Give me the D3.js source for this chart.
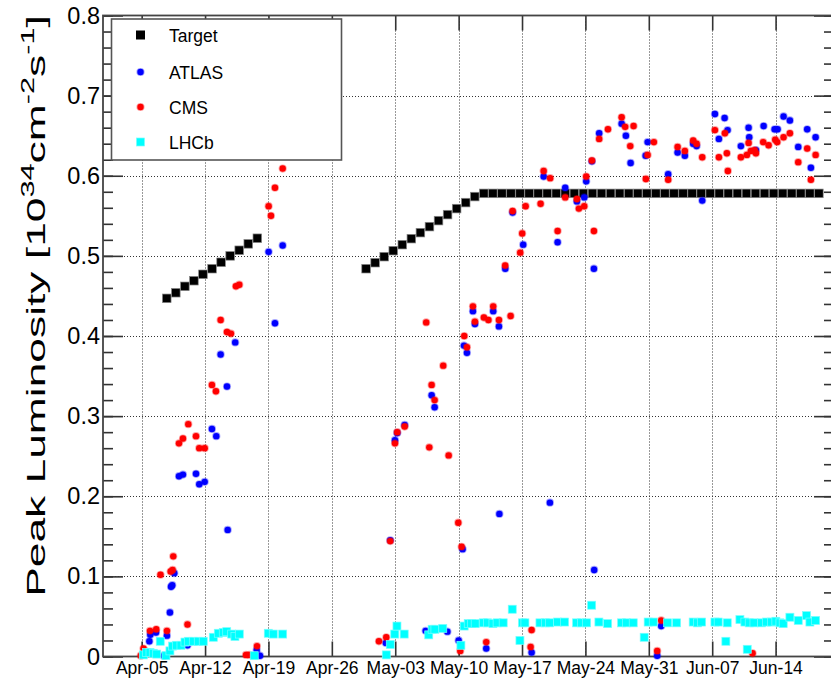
<!DOCTYPE html>
<html>
<head>
<meta charset="utf-8">
<script src="https://cdn.jsdelivr.net/npm/d3@7"></script>
<style>
  body { margin: 0; background: #fff; }
  text { font-family: "Liberation Sans", Arial, Helvetica, sans-serif; }
</style>
</head>
<body>
<div id="chart"></div>
<script>
var width = 831, height = 680;

// x values are days after Apr-05 (00:00)
var tickDays = [0, 7, 14, 21, 28, 35, 42, 49, 56, 63, 70];
var tickLabels = ["Apr-05", "Apr-12", "Apr-19", "Apr-26", "May-03", "May-10",
                  "May-17", "May-24", "May-31", "Jun-07", "Jun-14"];

// target: daily points, first day of each run + values
var targetStart = [2.77, 24.78];
var targetLumi = [
  [0.447, 0.454, 0.462, 0.469, 0.477, 0.484, 0.492, 0.500, 0.507, 0.515, 0.522],
  [0.484, 0.4915, 0.499, 0.5065, 0.514, 0.5215, 0.529, 0.5365, 0.544, 0.5515, 0.559, 0.5665, 0.574,
   0.578, 0.578, 0.578, 0.578, 0.578, 0.578, 0.578, 0.578, 0.578, 0.578,
   0.578, 0.578, 0.578, 0.578, 0.578, 0.578, 0.578, 0.578, 0.578, 0.578,
   0.578, 0.578, 0.578, 0.578, 0.578, 0.578, 0.578, 0.578, 0.578, 0.578,
   0.578, 0.578, 0.578, 0.578, 0.578, 0.578, 0.578, 0.578]
];

var atlas = [[0.85,0.019],[0.95,0.027],[1.58,0.03],[2.46,0.001],[2.79,0.026],[3.12,0.055],[3.24,0.087],
  [3.38,0.089],[3.6,0.104],[4.12,0.225],[4.56,0.227],[5.06,0.014],[6.0,0.228],[6.36,0.215],[6.96,0.218],
  [7.76,0.284],[8.24,0.275],[8.72,0.377],[9.42,0.337],[9.5,0.158],[10.33,0.392],[12.7,0.008],[13.06,0.001],
  [14.02,0.505],[14.72,0.416],[15.57,0.513],
  [26.97,0.017],[27.45,0.145],[27.97,0.27],[28.22,0.279],[29.04,0.289],[31.36,0.032],[32.02,0.326],
  [32.35,0.311],[33.76,0.031],[35.0,0.02],[35.44,0.134],[35.59,0.388],[35.92,0.379],[36.58,0.431],
  [36.8,0.415],[38.05,0.01],[38.82,0.431],[39.45,0.412],[39.5,0.178],[40.15,0.484],[40.96,0.554],
  [42.13,0.514],[43.06,0.005],[44.39,0.599],[45.08,0.192],[45.93,0.517],[46.77,0.585],[48.06,0.568],
  [48.87,0.573],[49.09,0.593],[49.72,0.618],[49.94,0.484],[49.97,0.108],[50.52,0.653],[53.0,0.665],
  [53.47,0.65],[53.99,0.616],[55.65,0.625],[55.87,0.642],[56.93,0.001],[57.37,0.038],[58.14,0.602],
  [59.18,0.629],[59.98,0.625],[60.9,0.64],[61.28,0.637],[61.9,0.569],[63.3,0.677],[63.74,0.646],
  [64.37,0.672],[64.7,0.657],[66.17,0.637],[67.02,0.66],[67.09,0.648],[67.83,0.632],[68.68,0.662],
  [69.89,0.658],[70.22,0.658],[70.88,0.674],[71.58,0.669],[72.5,0.636],[73.49,0.658],[73.9,0.61],
  [74.42,0.648]];

var cms = [[-0.1,0.001],[0.2,0.01],[0.5,0.006],[0.92,0.032],[1.61,0.034],[2.08,0.102],[2.79,0.032],
  [3.2,0.106],[3.42,0.108],[3.49,0.125],[4.12,0.266],[4.56,0.272],[5.06,0.04],[5.15,0.29],[6.0,0.275],
  [6.36,0.26],[6.96,0.26],[7.76,0.339],[8.2,0.331],[8.72,0.42],[9.42,0.405],[9.86,0.403],[10.41,0.462],
  [10.78,0.464],[11.52,0.002],[11.88,0.002],[12.73,0.013],[14.02,0.562],[14.28,0.55],[14.72,0.585],
  [15.57,0.609],
  [26.2,0.019],[27.01,0.024],[27.45,0.144],[27.97,0.266],[28.22,0.28],[29.04,0.287],[31.42,0.417],
  [31.76,0.261],[32.02,0.339],[32.35,0.32],[33.3,0.363],[33.9,0.251],[34.96,0.167],[35.18,0.007],
  [35.33,0.137],[35.62,0.4],[35.92,0.386],[36.58,0.437],[36.8,0.418],[37.79,0.423],[38.05,0.018],
  [38.29,0.42],[38.82,0.437],[39.45,0.42],[40.14,0.488],[40.74,0.425],[40.96,0.556],[41.8,0.504],
  [42.02,0.528],[42.4,0.562],[42.95,0.012],[43.06,0.033],[44.05,0.565],[44.39,0.606],[45.11,0.597],
  [45.93,0.531],[46.77,0.573],[48.06,0.571],[48.28,0.559],[48.87,0.562],[49.09,0.599],[49.72,0.619],
  [49.94,0.531],[50.52,0.646],[51.49,0.658],[53.0,0.673],[53.39,0.661],[53.95,0.637],[54.32,0.662],
  [55.68,0.596],[55.87,0.626],[56.56,0.642],[56.93,0.007],[57.37,0.045],[58.14,0.595],[59.18,0.636],
  [59.98,0.631],[60.9,0.644],[61.28,0.64],[61.9,0.623],[63.3,0.657],[63.74,0.623],[64.4,0.653],
  [64.62,0.628],[64.73,0.606],[66.17,0.623],[66.83,0.626],[67.02,0.641],[67.27,0.631],[67.46,0.004],
  [67.68,0.632],[67.83,0.628],[68.63,0.642],[69.23,0.638],[69.96,0.645],[70.18,0.642],[70.88,0.648],
  [71.58,0.653],[72.5,0.617],[73.49,0.634],[73.9,0.595],[74.42,0.626]];

var lhcb = [[0.18,0.002],[0.55,0.005],[0.92,0.005],[1.28,0.004],[1.66,0.003],[2.05,0.019],[2.68,0.001],
  [3.12,0.007],[3.42,0.013],[3.86,0.014],[4.34,0.014],[4.78,0.018],[5.15,0.019],[5.7,0.019],[6.25,0.019],
  [6.8,0.019],[7.91,0.024],[8.46,0.029],[9.01,0.03],[9.39,0.031],[9.94,0.028],[10.3,0.025],[10.78,0.028],
  [12.43,0.001],[13.98,0.029],[14.53,0.028],[15.57,0.028],
  [27.01,0.002],[27.45,0.015],[27.95,0.028],[28.19,0.038],[28.99,0.028],[31.7,0.027],[32.07,0.034],
  [32.38,0.034],[33.25,0.035],[35.25,0.014],[35.61,0.038],[36.06,0.041],[36.44,0.041],[36.83,0.041],
  [37.72,0.042],[38.2,0.042],[38.79,0.041],[39.25,0.042],[39.92,0.042],[40.92,0.059],[41.77,0.02],
  [42.05,0.042],[42.32,0.042],[43.98,0.042],[44.58,0.042],[45.05,0.042],[45.93,0.043],[46.7,0.043],
  [48.03,0.042],[48.58,0.042],[49.13,0.042],[49.69,0.064],[50.49,0.043],[51.45,0.041],[53.0,0.042],
  [53.55,0.042],[54.28,0.042],[55.49,0.024],[55.93,0.043],[56.49,0.043],[58.08,0.042],[59.07,0.042],
  [60.9,0.043],[61.39,0.042],[61.83,0.043],[63.3,0.043],[63.66,0.043],[64.51,0.019],[64.66,0.042],
  [66.06,0.046],[66.61,0.043],[66.87,0.009],[67.09,0.042],[67.61,0.042],[68.46,0.042],[69.01,0.043],
  [69.56,0.043],[70.03,0.044],[70.48,0.042],[70.84,0.041],[71.58,0.049],[72.5,0.045],[73.42,0.051],
  [73.79,0.043],[74.42,0.045]];

var legendNames = ["Target", "ATLAS", "CMS", "LHCb"];

var pLeft = 103, pRight = 834, pTop = 15.5, pBottom = 656.5;

var x = d3.scaleLinear().domain([-4.27, 76.45]).range([pLeft, pRight]);
var y = d3.scaleLinear().domain([0, 0.8]).range([pBottom, pTop]);

var svg = d3.select("#chart").append("svg")
    .attr("width", width)
    .attr("height", height);

svg.append("rect").attr("width", width).attr("height", height).attr("fill", "#fff");

var majorY = [0, 0.1, 0.2, 0.3, 0.4, 0.5, 0.6, 0.7, 0.8];
var minorY = d3.range(0, 41).map(function(i){ return i * 0.02; });

// grid
var grid = svg.append("g")
    .attr("stroke", "#333")
    .attr("stroke-width", 1)
    .attr("stroke-dasharray", "1,2");
grid.selectAll(".gx").data(tickDays).enter().append("line")
    .attr("x1", function(d){return Math.round(x(d)) + 0.5})
    .attr("x2", function(d){return Math.round(x(d)) + 0.5})
    .attr("y1", pTop).attr("y2", pBottom);
grid.selectAll(".gy").data(majorY.slice(1, 8)).enter().append("line")
    .attr("y1", function(d){return Math.round(y(d)) + 0.5})
    .attr("y2", function(d){return Math.round(y(d)) + 0.5})
    .attr("x1", pLeft).attr("x2", pRight);

// axes
var fmt = function(d){ return d === 0 ? "0" : d3.format(".1f")(d); };

var yAxis = svg.append("g")
    .attr("transform", "translate(" + pLeft + ",0)")
    .call(d3.axisLeft(y).tickValues(majorY).tickSize(-20).tickPadding(3).tickFormat(fmt));
svg.append("g")
    .attr("transform", "translate(" + pLeft + ",0)")
    .call(d3.axisLeft(y).tickValues(minorY).tickSize(-10).tickFormat(""));
svg.append("g")
    .attr("transform", "translate(" + pRight + ",0)")
    .call(d3.axisRight(y).tickValues(majorY).tickSize(-20).tickFormat(""));
svg.append("g")
    .attr("transform", "translate(" + pRight + ",0)")
    .call(d3.axisRight(y).tickValues(minorY).tickSize(-10).tickFormat(""));

var xAxis = svg.append("g")
    .attr("transform", "translate(0," + pBottom + ")")
    .call(d3.axisBottom(x).tickValues(tickDays).tickSize(-15).tickPadding(5)
      .tickFormat(function(d, i){ return tickLabels[i]; }));
svg.append("g")
    .attr("transform", "translate(0," + pTop + ")")
    .call(d3.axisTop(x).tickValues(tickDays).tickSize(-15).tickFormat(""));

svg.selectAll(".domain").remove();
svg.selectAll(".tick line").attr("stroke", "#333").attr("stroke-width", 1.6);
yAxis.selectAll("text").attr("font-size", 23.5).attr("fill", "#000")
    .style("font-family", "'Liberation Sans', Arial, sans-serif");
xAxis.selectAll("text").attr("font-size", 17.5).attr("fill", "#000")
    .style("font-family", "'Liberation Sans', Arial, sans-serif");

// frame
svg.append("rect")
    .attr("x", pLeft).attr("y", pTop)
    .attr("width", pRight - pLeft).attr("height", pBottom - pTop)
    .attr("fill", "none").attr("stroke", "#444").attr("stroke-width", 1.8);

// y title
var title = svg.append("text")
    .attr("text-anchor", "middle")
    .attr("font-size", 26)
    .attr("fill", "#000");
title.append("tspan").text("Peak Luminosity [10");
title.append("tspan").attr("dy", -11).attr("font-size", 18).text("34");
title.append("tspan").attr("dy", 11).text("cm");
title.append("tspan").attr("dy", -11).attr("font-size", 18).text("-2");
title.append("tspan").attr("dy", 11).text("s");
title.append("tspan").attr("dy", -11).attr("font-size", 18).text("-1");
title.append("tspan").attr("dy", 11).text("]");
var tw = title.node().getBBox().width;
title.attr("transform", "translate(45,306) rotate(-90) scale(" + (582 / tw) + ",1)");

// markers
var plot = svg.append("g");

targetLumi.forEach(function(vals, k){
  plot.append("g").selectAll("rect").data(vals).enter().append("rect")
      .attr("x", function(d, i){ return x(targetStart[k] + i) - 4.3; })
      .attr("y", function(d){ return y(d) - 4.3; })
      .attr("width", 8.6).attr("height", 8.6)
      .attr("fill", "#000").attr("stroke", "#888").attr("stroke-width", 0.7);
});

function dots(data, color) {
  plot.append("g").selectAll("circle").data(data).enter().append("circle")
      .attr("cx", function(d){ return x(d[0]); })
      .attr("cy", function(d){ return y(d[1]); })
      .attr("r", 3.2)
      .attr("fill", color)
      .attr("stroke", color).attr("stroke-opacity", 0.35).attr("stroke-width", 1.8);
}
dots(atlas, "#0000ff");
dots(cms, "#ff0000");

plot.append("g").selectAll("rect").data(lhcb).enter().append("rect")
    .attr("x", function(d){ return x(d[0]) - 4; })
    .attr("y", function(d){ return y(d[1]) - 4; })
    .attr("width", 8).attr("height", 8)
    .attr("fill", "#00ffff").attr("stroke", "#7ff").attr("stroke-width", 0.7);

// legend
var lg = svg.append("g");
lg.append("rect")
    .attr("x", 111.5).attr("y", 19).attr("width", 230).attr("height", 141)
    .attr("fill", "#fff").attr("stroke", "#555").attr("stroke-width", 1.6);
var ly = [35, 72, 107, 142];
legendNames.forEach(function(name, i){
  var cy = ly[i];
  if (i === 0) {
    lg.append("rect").attr("x", 136).attr("y", cy - 4.5).attr("width", 9).attr("height", 9)
      .attr("fill", "#000");
  } else if (i === 3) {
    lg.append("rect").attr("x", 136.5).attr("y", cy - 4).attr("width", 8).attr("height", 8)
      .attr("fill", "#00ffff").attr("stroke", "#7ff").attr("stroke-width", 0.7);
  } else {
    lg.append("circle").attr("cx", 140.5).attr("cy", cy).attr("r", 3.2)
      .attr("fill", i === 1 ? "#0000ff" : "#ff0000")
      .attr("stroke", i === 1 ? "#0000ff" : "#ff0000")
      .attr("stroke-opacity", 0.35).attr("stroke-width", 1.8);
  }
  lg.append("text").attr("x", 169).attr("y", cy + 6.5)
    .attr("font-size", 17.5).text(name);
});
</script>
</body>
</html>
